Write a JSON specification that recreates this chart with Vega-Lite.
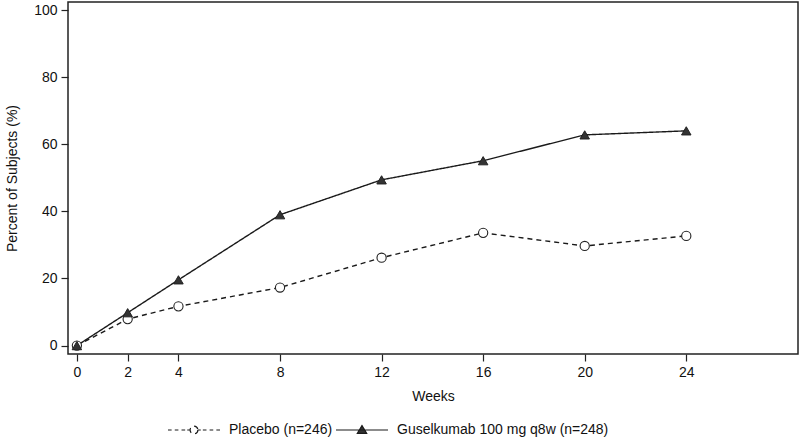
{
  "$schema": "https://vega.github.io/schema/vega-lite/v6.json",
  "width": 730,
  "height": 352,
  "autosize": "none",
  "padding": {"left": 68, "top": 2, "right": 2, "bottom": 83},
  "background": "white",
  "config": {
    "font": "Liberation Sans",
    "view": {"stroke": "#222", "strokeWidth": 1.5},
    "axis": {"grid": false, "domain": false, "tickColor": "#222", "tickWidth": 1.2, "tickSize": 7, "labelFontSize": 14, "labelColor": "#111", "titleFontSize": 14, "titleFontWeight": "normal", "titleColor": "#111", "labelPadding": 4}
  },
  "data": {"values": [
    {"group": "Placebo (n=246)", "week": 0, "pct": 0},
    {"group": "Placebo (n=246)", "week": 2, "pct": 7.9},
    {"group": "Placebo (n=246)", "week": 4, "pct": 11.7},
    {"group": "Placebo (n=246)", "week": 8, "pct": 17.3},
    {"group": "Placebo (n=246)", "week": 12, "pct": 26.2},
    {"group": "Placebo (n=246)", "week": 16, "pct": 33.6},
    {"group": "Placebo (n=246)", "week": 20, "pct": 29.7},
    {"group": "Placebo (n=246)", "week": 24, "pct": 32.7},
    {"group": "Guselkumab 100 mg q8w (n=248)", "week": 0, "pct": 0},
    {"group": "Guselkumab 100 mg q8w (n=248)", "week": 2, "pct": 9.8},
    {"group": "Guselkumab 100 mg q8w (n=248)", "week": 4, "pct": 19.6},
    {"group": "Guselkumab 100 mg q8w (n=248)", "week": 8, "pct": 39.0},
    {"group": "Guselkumab 100 mg q8w (n=248)", "week": 12, "pct": 49.4},
    {"group": "Guselkumab 100 mg q8w (n=248)", "week": 16, "pct": 55.1},
    {"group": "Guselkumab 100 mg q8w (n=248)", "week": 20, "pct": 62.8},
    {"group": "Guselkumab 100 mg q8w (n=248)", "week": 24, "pct": 64.0}
  ]},
  "encoding": {
    "x": {"field": "week", "type": "quantitative", "scale": {"domain": [-0.35, 28.4], "nice": false, "zero": false},
          "axis": {"values": [0, 2, 4, 8, 12, 16, 20, 24], "title": "Weeks", "titlePadding": 10}},
    "y": {"field": "pct", "type": "quantitative", "scale": {"domain": [-2.5, 102.4], "nice": false, "zero": false},
          "axis": {"values": [0, 20, 40, 60, 80, 100], "title": "Percent of Subjects (%)", "titlePadding": 14}}
  },
  "layer": [
    {
      "mark": {"type": "line", "color": "#1a1a1a", "strokeWidth": 1.4},
      "encoding": {
        "strokeDash": {"field": "group", "type": "nominal",
          "scale": {"domain": ["Placebo (n=246)", "Guselkumab 100 mg q8w (n=248)"], "range": [[5, 4], [1, 0]]},
          "legend": {
            "title": null, "orient": "none", "direction": "horizontal", "legendX": 99, "legendY": 401,
            "symbolSize": 2704, "symbolStrokeWidth": 1.2, "symbolStrokeColor": "#1a1a1a",
            "labelFontSize": 14, "labelColor": "#111", "labelOffset": 8, "columnPadding": 0, "labelLimit": 400,
            "encode": {"symbols": {"update": {
              "shape": {"signal": "datum.value == 'Placebo (n=246)' ? 'M-1,0H-0.86M-0.74,0H-0.6M-0.48,0H-0.34M-0.26,0H-0.15M0.15,0H0.26M0.34,0H0.48M0.6,0H0.74M0.86,0H1M0.15,0C0.15,0.0828 0.0828,0.15 0,0.15C-0.0828,0.15 -0.15,0.0828 -0.15,0C-0.15,-0.0828 -0.0828,-0.15 0,-0.15C0.0828,-0.15 0.15,-0.0828 0.15,0Z' : 'M-1,0H1M-0.18,0.13L0,-0.17L0.18,0.13Z'"},
              "fill": {"signal": "datum.value == 'Placebo (n=246)' ? 'white' : '#333'"},
              "strokeDash": {"value": [1, 0]},
              "stroke": {"value": "#1a1a1a"}
            }}}
          }
        }
      }
    },
    {
      "transform": [{"filter": "datum.group == 'Placebo (n=246)'"}],
      "mark": {"type": "point", "shape": "circle", "size": 85, "strokeWidth": 1.1, "opacity": 1, "stroke": "#222", "fill": "white", "filled": true}
    },
    {
      "transform": [{"filter": "datum.group != 'Placebo (n=246)'"}],
      "mark": {"type": "point", "shape": "triangle-up", "size": 90, "strokeWidth": 1, "opacity": 1, "stroke": "#222", "fill": "#333", "filled": true}
    }
  ]
}
